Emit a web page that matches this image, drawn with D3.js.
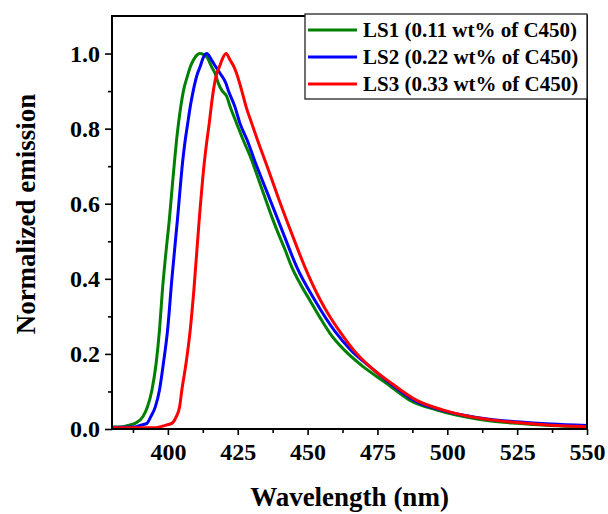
<!DOCTYPE html>
<meta charset="utf-8">
<style>
    body { margin: 0; background: #fff; }
    text { font-family: "Liberation Serif", "Times New Roman", serif; font-weight: bold; }
    .axis text { font-size: 24px; fill: #000; }
    .axis line { stroke: #000; stroke-width: 1.6px; }
    .axis path { display: none; }
</style>
<svg width="608" height="514"></svg>
<script src="https://d3js.org/d3.v7.min.js"></script>
<script>

    // wavelength (nm) / normalized emission
    var ls1Wl = [380, 384, 386.5, 388.3, 391.1, 392.7, 394.3, 395.8, 397, 398.1, 399.3, 400.5, 401.5, 402.4, 403.1, 403.8, 404.6, 405.6, 407, 408, 409.1, 410.3, 411.5, 412.7, 413.9, 415.7, 416.9, 418.1, 419.3, 421.1, 422.3, 424.6, 427, 429.8, 432.2, 434.8, 437.2, 439.5, 441.8, 444.3, 447.5, 450.8, 454.5, 458, 463.2, 469.9, 478.2, 486.5, 496, 503.2, 515, 525, 537, 550];
    var ls1Val = [0.005, 0.006, 0.011, 0.015, 0.033, 0.059, 0.104, 0.175, 0.264, 0.375, 0.47, 0.556, 0.64, 0.715, 0.769, 0.814, 0.858, 0.902, 0.94, 0.964, 0.982, 0.995, 1.0, 0.998, 0.991, 0.964, 0.947, 0.92, 0.902, 0.885, 0.858, 0.814, 0.769, 0.72, 0.67, 0.615, 0.565, 0.521, 0.48, 0.432, 0.385, 0.343, 0.296, 0.255, 0.21, 0.166, 0.122, 0.077, 0.051, 0.037, 0.022, 0.015, 0.009, 0.005];

    var ls2Wl = [380, 388, 390.7, 392.5, 393.9, 395.5, 397, 398.4, 399.9, 401.4, 403.4, 405.4, 406.2, 407.1, 408, 409.1, 410.6, 411.5, 412.7, 413.9, 415.7, 417.2, 418.7, 420.8, 421.6, 424, 425.8, 428.4, 430.8, 436.6, 441.3, 446.1, 452.6, 459.8, 465.5, 472.3, 479.5, 488, 497.5, 505, 515, 525, 537, 550];
    var ls2Val = [0.004, 0.005, 0.011, 0.015, 0.033, 0.059, 0.104, 0.175, 0.264, 0.397, 0.556, 0.72, 0.769, 0.814, 0.858, 0.902, 0.947, 0.964, 0.99, 1.0, 0.982, 0.964, 0.947, 0.92, 0.902, 0.858, 0.814, 0.769, 0.72, 0.61, 0.521, 0.432, 0.343, 0.26, 0.21, 0.166, 0.122, 0.077, 0.051, 0.038, 0.026, 0.019, 0.013, 0.009];

    var ls3Wl = [380, 395, 399.6, 401.4, 403, 404.2, 405, 406.5, 408, 409.3, 411.2, 412.9, 414, 414.8, 415.5, 416.3, 417.5, 418.4, 419.3, 420.8, 422.3, 423.7, 424.6, 426.4, 428, 430, 432.1, 435.6, 439.8, 444.3, 449, 454.6, 458, 461.5, 466.5, 472.3, 480, 488.9, 498.3, 505.6, 515, 525, 537, 550];
    var ls3Val = [0.003, 0.003, 0.011, 0.015, 0.033, 0.059, 0.104, 0.175, 0.264, 0.37, 0.556, 0.70, 0.77, 0.814, 0.858, 0.902, 0.947, 0.964, 0.982, 1.0, 0.982, 0.964, 0.947, 0.902, 0.858, 0.814, 0.769, 0.698, 0.61, 0.521, 0.432, 0.343, 0.299, 0.26, 0.21, 0.166, 0.122, 0.077, 0.051, 0.037, 0.025, 0.017, 0.01, 0.006];

    var seriesNames = ["LS1 (0.11 wt% of C450)", "LS2 (0.22 wt% of C450)", "LS3 (0.33 wt% of C450)"];
    var seriesColors = ["#008000", "#0000ff", "#ff0000"];

    var xTicks = [400, 425, 450, 475, 500, 525, 550];
    var xMinorTicks = [387.5, 412.5, 437.5, 462.5, 487.5, 512.5, 537.5];
    var yTicks = [0, 0.2, 0.4, 0.6, 0.8, 1.0];
    var yMinorTicks = [0.1, 0.3, 0.5, 0.7, 0.9];

    var svg = d3.select("svg"),
        margin = {top: 16, right: 21, bottom: 85, left: 112},
        width = +svg.attr("width") - margin.left - margin.right,
        height = +svg.attr("height") - margin.top - margin.bottom;

    var x = d3.scaleLinear().domain([380, 550]).range([0, width]),
        y = d3.scaleLinear().domain([0, 1.1]).range([height, 0]);

    var g = svg.append("g")
        .attr("transform", "translate(" + margin.left + "," + margin.top + ")");

    g.append("clipPath").attr("id", "clip")
        .append("rect").attr("width", width).attr("height", height);

    // minor ticks
    g.append("g")
        .attr("class", "axis")
        .attr("transform", "translate(0," + height + ")")
        .call(d3.axisBottom(x).tickValues(xMinorTicks).tickSize(4).tickFormat(""));
    g.append("g")
        .attr("class", "axis")
        .call(d3.axisLeft(y).tickValues(yMinorTicks).tickSize(4).tickFormat(""));

    // major ticks
    g.append("g")
        .attr("class", "axis")
        .attr("transform", "translate(0," + height + ")")
        .call(d3.axisBottom(x).tickValues(xTicks).tickSize(6).tickPadding(8).tickFormat(d3.format("d")));
    g.append("g")
        .attr("class", "axis")
        .call(d3.axisLeft(y).tickValues(yTicks).tickSize(7).tickPadding(5).tickFormat(d3.format(".1f")));

    var series = [
        ls1Wl.map(function(d, i) { return [d, ls1Val[i]]; }),
        ls2Wl.map(function(d, i) { return [d, ls2Val[i]]; }),
        ls3Wl.map(function(d, i) { return [d, ls3Val[i]]; })
    ];

    var line = d3.line()
        .x(function(d) { return x(d[0]); })
        .y(function(d) { return y(d[1]); })
        .curve(d3.curveMonotoneX);

    g.append("g").attr("clip-path", "url(#clip)")
        .selectAll("path")
        .data(series)
        .enter().append("path")
        .attr("d", line)
        .attr("fill", "none")
        .attr("stroke", function(d, i) { return seriesColors[i]; })
        .attr("stroke-width", 3)
        .attr("stroke-linejoin", "round");

    // frame
    g.append("rect")
        .attr("width", width)
        .attr("height", height)
        .attr("fill", "none")
        .attr("stroke", "#000")
        .attr("stroke-width", 2);

    // axis titles
    svg.append("text")
        .attr("x", margin.left + width / 2)
        .attr("y", 506)
        .attr("text-anchor", "middle")
        .style("font-size", "27px")
        .text("Wavelength (nm)");

    svg.append("text")
        .attr("transform", "translate(35,214) rotate(-90)")
        .attr("text-anchor", "middle")
        .style("font-size", "27px")
        .text("Normalized emission");

    // legend
    var legend = svg.append("g").attr("transform", "translate(305,14)");
    legend.append("rect")
        .attr("width", 282)
        .attr("height", 85)
        .attr("fill", "#fff")
        .attr("stroke", "#222")
        .attr("stroke-width", 1.3);

    var item = legend.selectAll(".item")
        .data(seriesNames)
        .enter().append("g")
        .attr("class", "item")
        .attr("transform", function(d, i) { return "translate(0," + (16 + i * 27) + ")"; });

    item.append("line")
        .attr("x1", 3).attr("x2", 52)
        .attr("stroke", function(d, i) { return seriesColors[i]; })
        .attr("stroke-width", 3);

    item.append("text")
        .attr("x", 58)
        .attr("dy", "0.35em")
        .style("font-size", "21px")
        .text(function(d) { return d; });

</script>
